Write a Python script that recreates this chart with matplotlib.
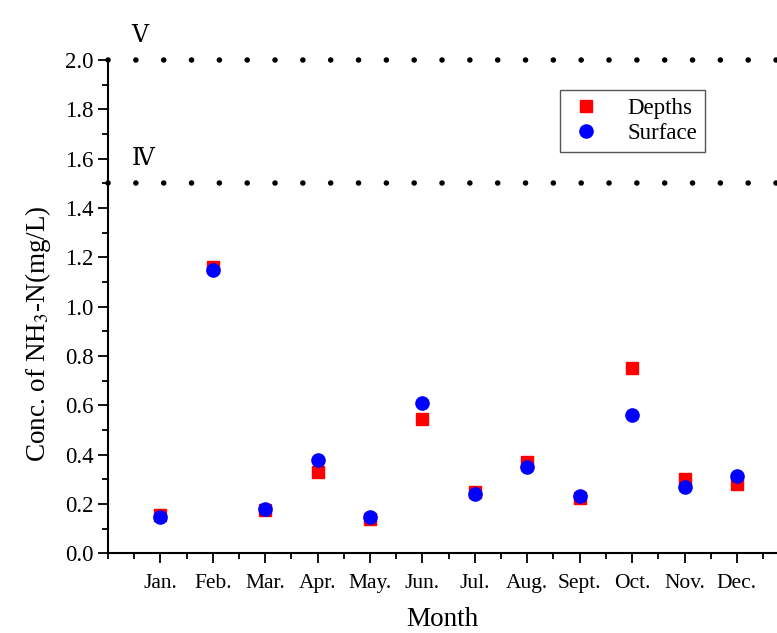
import matplotlib.pyplot as plt
from matplotlib.ticker import MultipleLocator

plt.rcParams['font.family'] = ['Liberation Serif', 'DejaVu Serif']
plt.rcParams['mathtext.fontset'] = 'stix'

months = ['Jan.', 'Feb.', 'Mar.', 'Apr.', 'May.', 'Jun.', 'Jul.', 'Aug.',
          'Sept.', 'Oct.', 'Nov.', 'Dec.']
depths = [0.155, 1.16, 0.175, 0.33, 0.14, 0.545, 0.25, 0.37, 0.225, 0.75, 0.30, 0.28]
surface = [0.145, 1.15, 0.178, 0.378, 0.148, 0.61, 0.24, 0.35, 0.232, 0.56, 0.268, 0.315]
limits = [2.0, 1.5]
limit_names = ['\u2164', '\u2163']

x = list(range(1, len(months) + 1))

fig = plt.figure(figsize=(7.77, 6.33), dpi=100)
ax = fig.add_axes([0.139, 0.126, 0.86, 0.779])

for v, name in zip(limits, limit_names):
    ax.axhline(v, color='black', lw=4, ls=(0, (0.01, 5.0)),
               dash_capstyle='round', clip_on=False)
    ax.text(0.45, v + 0.055, name, fontsize=17, ha='left', va='bottom',
            family=['Liberation Serif', 'DejaVu Serif', 'Noto Sans CJK SC'])

ax.plot(x, depths, ls='none', marker='s', ms=8.5, color='#ff0000',
        mec='#ff0000', label='Depths', clip_on=False)
ax.plot(x, surface, ls='none', marker='o', ms=9.5, color='#0000ff',
        mec='#0000ff', label='Surface', clip_on=False)

ax.set_xlim(0, 12.75)
ax.set_ylim(0, 2.0)
ax.set_xticks(x)
ax.set_xticks([i + 0.5 for i in range(0, 13)] + [0], minor=True)
ax.set_xticklabels(months, fontsize=15.5)
ax.yaxis.set_major_locator(MultipleLocator(0.2))
ax.yaxis.set_minor_locator(MultipleLocator(0.1))
ax.yaxis.set_major_formatter(lambda v, p: f'{v:.1f}')
ax.tick_params(axis='y', labelsize=16.5)
ax.tick_params(which='major', length=7, width=1.3, direction='out')
ax.tick_params(which='minor', length=4, width=1.3, direction='out')
ax.tick_params(axis='x', pad=8)

for s in ['top', 'right']:
    ax.spines[s].set_visible(False)
for s in ['left', 'bottom']:
    ax.spines[s].set_linewidth(1.5)

ax.set_ylabel('Conc. of NH$_3$-N(mg/L)', fontsize=19.5)
ax.yaxis.set_label_coords(-0.082, 0.446)
ax.set_xlabel('Month', fontsize=19.5, labelpad=10)

leg = ax.legend(loc='upper right', bbox_to_anchor=(0.894, 0.939), fontsize=16.5,
                fancybox=False, edgecolor='#555555', framealpha=1,
                handletextpad=1.0, borderpad=0.35, labelspacing=0.15,
                handlelength=1.6, borderaxespad=0)
leg.get_frame().set_linewidth(1.0)

fig.savefig('out.png', dpi=100)
